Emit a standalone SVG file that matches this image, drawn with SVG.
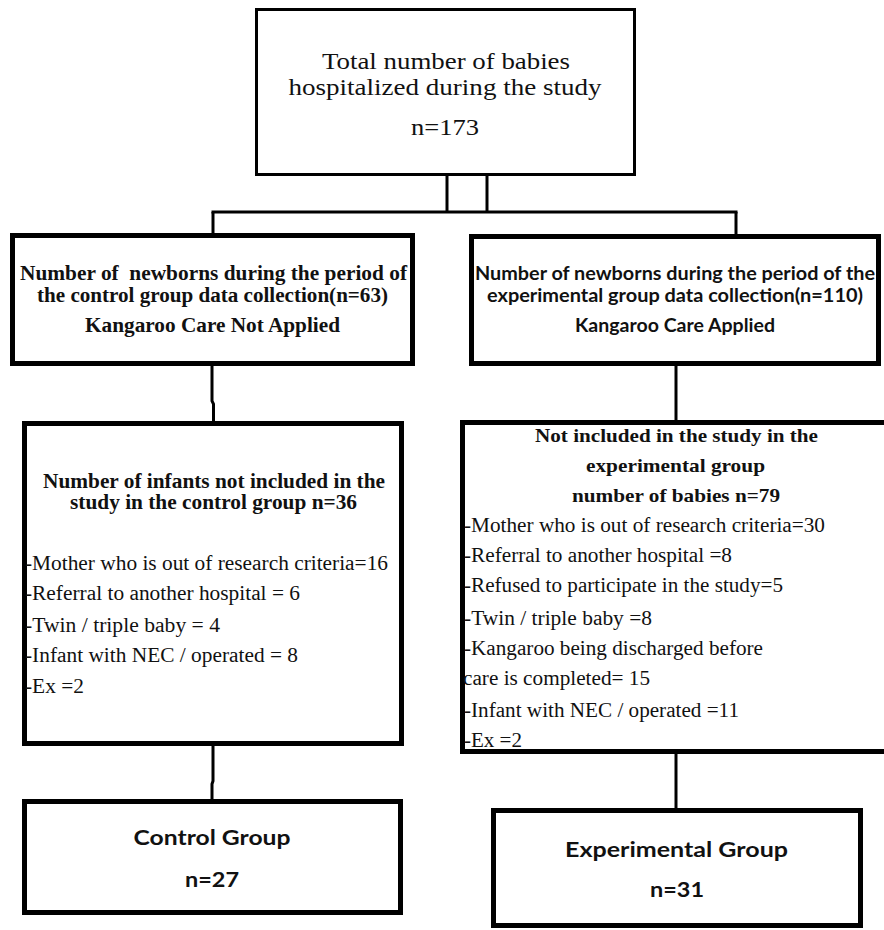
<svg xmlns="http://www.w3.org/2000/svg" width="884" height="930" viewBox="0 0 884 930">
<style>
.box{fill:#fff;stroke:#000;stroke-width:5}
.thin{fill:#fff;stroke:#000;stroke-width:3}
.con{fill:none;stroke:#000;stroke-width:3}
.c{text-anchor:middle}
</style>
<rect width="884" height="930" fill="#fff"/>
<g id="connectors">
<line class="con" x1="447" y1="175" x2="447" y2="212"/>
<line class="con" x1="487" y1="175" x2="487" y2="212"/>
<line class="con" x1="211.5" y1="212" x2="737.5" y2="212"/>
<line class="con" x1="213" y1="212" x2="213" y2="234"/>
<line class="con" x1="736" y1="212" x2="736" y2="235"/>
<path class="con" d="M212 366 V401 L213.5 404 V422"/>
<path class="con" d="M213 746 V781 L212 784 V800"/>
<line class="con" x1="676" y1="366" x2="676" y2="421"/>
<line class="con" x1="676" y1="754" x2="676" y2="809"/>
</g>
<g id="total" font-family="'Liberation Serif', 'Times New Roman', Times, serif" fill="#111">
<rect class="thin" x="256.5" y="9.5" width="378" height="165"/>
<text class="c" x="446" y="69" font-size="23" textLength="248" lengthAdjust="spacingAndGlyphs">Total number of babies</text>
<text class="c" x="445" y="95" font-size="23" textLength="313" lengthAdjust="spacingAndGlyphs">hospitalized during the study</text>
<text class="c" x="445" y="135" font-size="23" textLength="68" lengthAdjust="spacingAndGlyphs">n=173</text>
</g>
<g id="control-period" font-family="'Liberation Serif', 'Times New Roman', Times, serif" font-weight="bold" fill="#111">
<rect class="box" x="12.5" y="235.5" width="400" height="128"/>
<text class="c" x="213.5" y="280" font-size="20" textLength="387" lengthAdjust="spacingAndGlyphs" xml:space="preserve">Number of  newborns during the period of</text>
<text class="c" x="212.5" y="302" font-size="20" textLength="351" lengthAdjust="spacingAndGlyphs">the control group data collection(n=63)</text>
<text class="c" x="212.5" y="332" font-size="20" textLength="255" lengthAdjust="spacingAndGlyphs">Kangaroo Care Not Applied</text>
</g>
<g id="experimental-period" font-family="Lato, 'Open Sans', sans-serif" font-weight="bold" fill="#111">
<rect class="box" x="471.5" y="236.5" width="407" height="127"/>
<text class="c" x="675" y="280" font-size="18.5" textLength="400" lengthAdjust="spacingAndGlyphs">Number of newborns during the period of the</text>
<text class="c" x="675" y="302" font-size="18.5" textLength="376" lengthAdjust="spacingAndGlyphs">experimental group data collection(n=110)</text>
<text class="c" x="675" y="332" font-size="18.5" textLength="200" lengthAdjust="spacingAndGlyphs">Kangaroo Care Applied</text>
</g>
<g id="control-excluded" font-family="'Liberation Serif', 'Times New Roman', Times, serif" fill="#111">
<rect class="box" x="24.5" y="423.5" width="377" height="320"/>
<text class="c" x="214" y="488" font-size="20" font-weight="bold" textLength="342" lengthAdjust="spacingAndGlyphs">Number of infants not included in the</text>
<text class="c" x="213.5" y="509" font-size="20" font-weight="bold" textLength="287" lengthAdjust="spacingAndGlyphs">study in the control group n=36</text>
<text x="25" y="570" font-size="20" textLength="363" lengthAdjust="spacingAndGlyphs">-Mother who is out of research criteria=16</text>
<text x="25" y="600" font-size="20" textLength="275" lengthAdjust="spacingAndGlyphs">-Referral to another hospital = 6</text>
<text x="25" y="632" font-size="20" textLength="195" lengthAdjust="spacingAndGlyphs">-Twin / triple baby = 4</text>
<text x="25" y="662" font-size="20" textLength="273" lengthAdjust="spacingAndGlyphs">-Infant with NEC / operated = 8</text>
<text x="25" y="693" font-size="20" textLength="59" lengthAdjust="spacingAndGlyphs">-Ex =2</text>
</g>
<g id="experimental-excluded" font-family="'Liberation Serif', 'Times New Roman', Times, serif" fill="#111">
<rect class="box" x="462.5" y="422.5" width="440" height="329"/>
<text class="c" x="676.5" y="442" font-size="19.5" font-weight="bold" textLength="283" lengthAdjust="spacingAndGlyphs">Not included in the study in the</text>
<text class="c" x="675.5" y="472" font-size="19.5" font-weight="bold" textLength="179" lengthAdjust="spacingAndGlyphs">experimental group</text>
<text class="c" x="676" y="502" font-size="19.5" font-weight="bold" textLength="208" lengthAdjust="spacingAndGlyphs">number of babies n=79</text>
<text x="464" y="532" font-size="20" textLength="361" lengthAdjust="spacingAndGlyphs">-Mother who is out of research criteria=30</text>
<text x="464" y="562" font-size="20" textLength="268" lengthAdjust="spacingAndGlyphs">-Referral to another hospital =8</text>
<text x="464" y="592" font-size="20" textLength="319" lengthAdjust="spacingAndGlyphs">-Refused to participate in the study=5</text>
<text x="464" y="625" font-size="20" textLength="188" lengthAdjust="spacingAndGlyphs">-Twin / triple baby =8</text>
<text x="464" y="655" font-size="20" textLength="299" lengthAdjust="spacingAndGlyphs">-Kangaroo being discharged before</text>
<text x="463" y="685" font-size="20" textLength="187" lengthAdjust="spacingAndGlyphs">care is completed= 15</text>
<text x="464" y="717" font-size="20" textLength="275" lengthAdjust="spacingAndGlyphs">-Infant with NEC / operated =11</text>
<text x="464" y="747" font-size="20" textLength="58" lengthAdjust="spacingAndGlyphs">-Ex =2</text>
</g>
<g id="control-group" font-family="Lato, 'Open Sans', sans-serif" font-weight="bold" fill="#111">
<rect class="box" x="24.5" y="801.5" width="376" height="111"/>
<text class="c" x="212" y="845" font-size="21" textLength="157" lengthAdjust="spacingAndGlyphs">Control Group</text>
<text class="c" x="212" y="887" font-size="21" textLength="54" lengthAdjust="spacingAndGlyphs">n=27</text>
</g>
<g id="experimental-group" font-family="Lato, 'Open Sans', sans-serif" font-weight="bold" fill="#111">
<rect class="box" x="493.5" y="810.5" width="367" height="115"/>
<text class="c" x="676.5" y="857" font-size="21" textLength="223" lengthAdjust="spacingAndGlyphs">Experimental Group</text>
<text class="c" x="677" y="897" font-size="21" textLength="54" lengthAdjust="spacingAndGlyphs">n=31</text>
</g>
</svg>
